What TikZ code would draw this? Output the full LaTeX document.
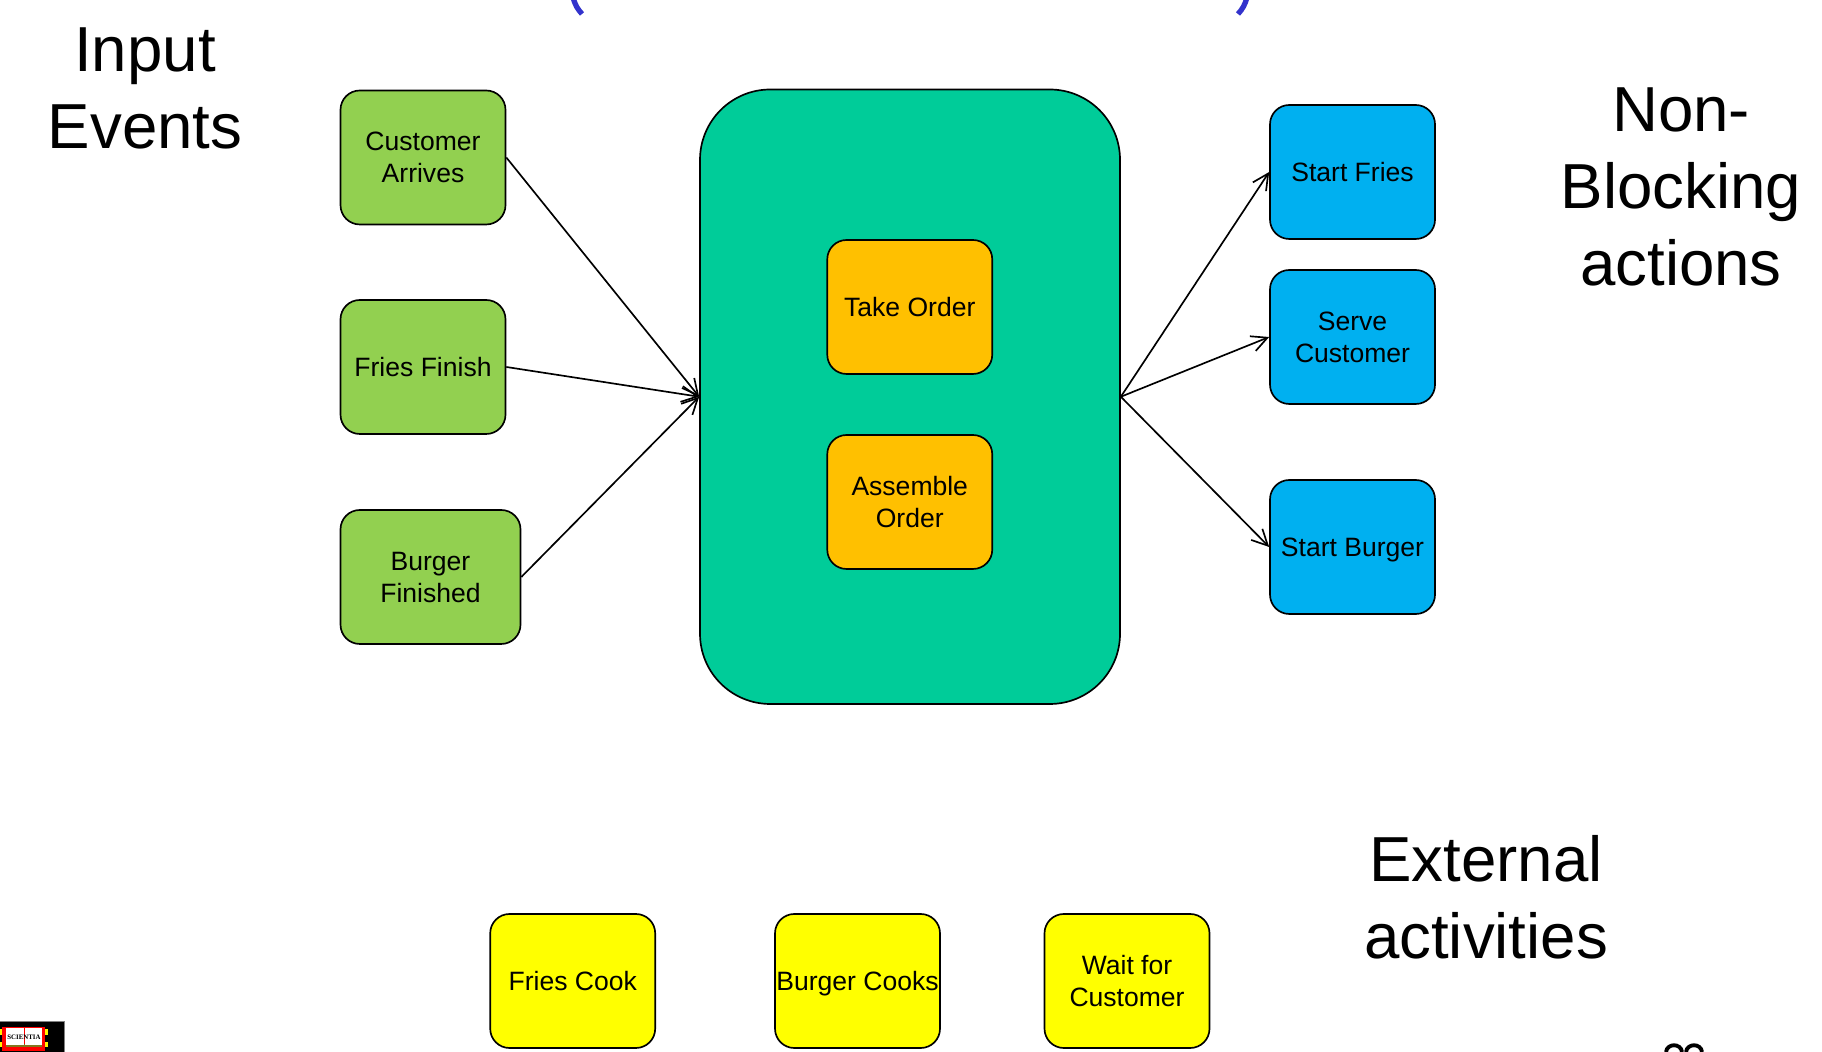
\documentclass[tikz,border=0pt]{standalone}
\usepackage{xcolor}
\usepackage{fontspec}
\setmainfont{Liberation Sans}
\newfontfamily\logofont{Liberation Serif}
\usetikzlibrary{arrows.meta}
\definecolor{inputgreen}{RGB}{146,208,80}
\definecolor{coreteal}{RGB}{0,204,153}
\definecolor{taskamber}{RGB}{255,192,0}
\definecolor{actionblue}{RGB}{0,176,240}
\definecolor{extyellow}{RGB}{255,255,0}
\definecolor{titleblue}{RGB}{51,51,204}
\definecolor{logoolive}{RGB}{130,120,30}

\begin{document}
\begin{tikzpicture}[
    block/.style={rectangle, rounded corners=11pt, draw, line width=0.95pt,
                  minimum width=3.3cm, minimum height=2.68cm, inner sep=0pt,
                  text centered, align=center, text depth=-3pt,
                  font=\fontsize{15.1}{18.2}\selectfont},
    input/.style={block, fill=inputgreen},
    task/.style={block, fill=taskamber},
    action/.style={block, fill=actionblue},
    external/.style={block, fill=extyellow},
    flow/.style={line width=0.95pt, -{Straight Barb[length=9pt,width=9pt]}},
    heading/.style={align=center, font=\fontsize{36.2}{43.8}\selectfont},
    bracket/.style={line width=3pt, titleblue},
    pagenum/.style={line width=2.2pt}]

\useasboundingbox (0,0.02) rectangle (36.44,21.04);

%% ── Central block ────────────────────────────────────────────────────────────
\node[draw, line width=0.95pt, rounded corners=40pt, fill=coreteal,
      minimum width=8.40cm, minimum height=12.29cm] (core) at (18.20,13.105) {};

\node[task] (take) at (18.195,14.90) {Take Order};
\node[task] (assemble) at (18.195,11.0) {Assemble\\Order};

%% ── Input events ─────────────────────────────────────────────────────────────
\node[input] (customer) at (8.46,17.89) {Customer\\Arrives};
\node[input] (fries) at (8.46,13.70) {Fries Finish};
\node[input, minimum width=3.6cm] (burger) at (8.61,9.50) {Burger\\Finished};

%% ── Non-blocking actions ─────────────────────────────────────────────────────
\node[action] (startfries) at (27.05,17.60) {Start Fries};
\node[action] (serve) at (27.05,14.30) {Serve\\Customer};
\node[action] (startburger) at (27.05,10.10) {Start Burger};

%% ── External activities ──────────────────────────────────────────────────────
\node[external] (cook) at (11.454,1.42) {Fries Cook};
\node[external] (cooks) at (17.15,1.42) {Burger Cooks};
\node[external] (wait) at (22.54,1.42) {Wait for\\Customer};

%% ── Connections ──────────────────────────────────────────────────────────────
\draw[flow] (customer.east) -- (core.west);
\draw[flow] (fries.east) -- (core.west);
\draw[flow] (burger.east) -- (core.west);

\draw[flow] (core.east) -- (startfries.west);
\draw[flow] (core.east) -- (serve.west);
\draw[flow] (core.east) -- (startburger.west);

%% ── Headings ─────────────────────────────────────────────────────────────────
\node[heading] (inlabel) at (2.9,19.28) {Input\\Events};
\node[heading] (actlabel) at (33.62,17.30) {Non-\\Blocking\\actions};
\node[heading] (extlabel) at (29.72,3.09) {External\\activities};

%% ── Cut-off title brackets and page number ───────────────────────────────────
\draw[bracket] (11.46,21.1) .. controls (11.50,20.94) and (11.55,20.86) .. (11.64,20.76);
\draw[bracket] (24.94,21.1) .. controls (24.90,20.94) and (24.85,20.86) .. (24.76,20.76);

\draw[pagenum] (33.32,0) .. controls (33.34,0.18) and (33.62,0.18) .. (33.64,0);
\draw[pagenum] (33.72,0) .. controls (33.74,0.18) and (34.02,0.18) .. (34.04,0);

%% ── Logo ─────────────────────────────────────────────────────────────────────
\fill[black] (0,0) rectangle (1.28,0.62);
\draw[gray, line width=0.5pt] (0,0.61) -- (1.28,0.61) -- (1.28,0);
\fill[red] (0.034,0.02) rectangle (0.90,0.50);
\fill[logoolive] (0.12,0.10) rectangle (0.84,0.16);
\fill[white] (0.12,0.14) rectangle (0.48,0.48);
\fill[white] (0.50,0.14) rectangle (0.84,0.48);
\fill[yellow] (0.90,0.34) rectangle (0.96,0.46);
\fill[yellow] (0.90,0.10) rectangle (0.96,0.20);
\fill[yellow] (0,0.34) rectangle (0.034,0.46);
\fill[yellow] (0,0.10) rectangle (0.034,0.20);
\node[inner sep=0pt, font=\logofont\bfseries\fontsize{3.9}{4}\selectfont] (logo) at (0.48,0.30) {SCIENTIA};

\end{tikzpicture}
\end{document}
